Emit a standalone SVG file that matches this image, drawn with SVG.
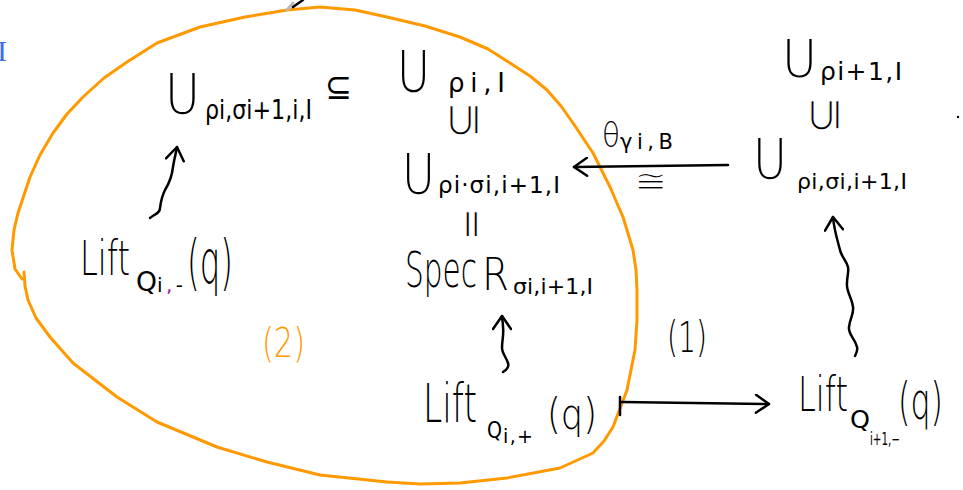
<svg xmlns="http://www.w3.org/2000/svg" width="963" height="490" viewBox="0 0 963 490">
<style>
.t{font-family:"DejaVu Sans","Liberation Sans",sans-serif;fill:#000;font-weight:200}
.s{font-weight:400}
.sym{font-weight:400;stroke:#fff;stroke-width:1.3}
.o{fill:#ff9900}
.ln{fill:none;stroke:#000;stroke-width:2.5;stroke-linecap:round;stroke-linejoin:round}
.arr{marker-end:url(#ah)}
.reg{fill:none;stroke:#ff9900;stroke-width:3;stroke-linecap:round;stroke-linejoin:round}
</style>
<defs>
<marker id="ah" viewBox="0 0 20 20" refX="16" refY="10" markerWidth="20" markerHeight="20" markerUnits="userSpaceOnUse" orient="auto">
<path d="M3,1 L16,10 L3,19" fill="none" stroke="#000" stroke-width="2.5" stroke-linecap="round" stroke-linejoin="round"/>
</marker>
</defs>
<rect width="963" height="490" fill="#fff"/>

<g id="region">
<path class="reg" d="M22,279 L15,269 L12,250 L14,230 L18,213 L24,195 L30,177 L40,155 L53,133 L67,114 L83,97 L104,78 L127,62 L157,43 L200,27 L245,17 L287,10 L320,7 L355,10 L387,17 L425,26 L460,37 L488,49 L510,63 L530,76 L547,90 L561,106 L573,123 L593,153 L610,187 L623,217 L633,250 L636,270 L637,290 L637,320 L635,350 L627,390 L613,427 L604,441 L593,453 L560,468 L507,478 L460,483 L420,484 L387,482 L320,475 L267,462 L217,447 L157,422 L117,397 L73,363 L50,337 L36,318 L28,300 L25,286 L24,272"/>
<text class="t o" x="262" y="357" font-size="40" textLength="43" lengthAdjust="spacingAndGlyphs">(2)</text>
</g>

<g id="margin">
<text x="2" y="61" font-family="Liberation Serif,serif" font-size="30" text-anchor="middle" fill="#3b6cf5">I</text>
<line x1="287" y1="10" x2="293" y2="3" stroke="#bbb" stroke-width="3" stroke-linecap="round"/>
<line x1="293" y1="7" x2="303" y2="0" stroke="#000" stroke-width="2.5" stroke-linecap="round"/>
<circle cx="958" cy="117" r="1.2" fill="#000"/>
</g>

<g id="node-A">
<text class="t" x="165" y="113" font-size="55" textLength="35" lengthAdjust="spacingAndGlyphs">U</text>
<text class="t s" x="205" y="119" font-size="26" textLength="107" lengthAdjust="spacingAndGlyphs">ρi,σi+1,i,I</text>
</g>

<g id="node-B">
<text class="t" x="397" y="92" font-size="57" textLength="33" lengthAdjust="spacingAndGlyphs">U</text>
<text class="t s" x="448" y="92" font-size="26" textLength="57">ρi,I</text>
</g>

<g id="node-C">
<text class="t" x="402" y="193" font-size="55" textLength="33" lengthAdjust="spacingAndGlyphs">U</text>
<text class="t s" x="438" y="193" font-size="23" textLength="122">ρi·σi,i+1,I</text>
</g>

<g id="node-D">
<text class="t" x="405" y="287" font-size="50" textLength="72" lengthAdjust="spacingAndGlyphs">Spec</text>
<text class="t" x="482" y="290" font-size="44" textLength="27" lengthAdjust="spacingAndGlyphs">R</text>
<text class="t s" x="513" y="294" font-size="22" textLength="80">σi,i+1,I</text>
</g>

<g id="node-E">
<text class="t" x="423" y="422" font-size="53" textLength="54" lengthAdjust="spacingAndGlyphs">Lift</text>
<text class="t s" x="487" y="438" font-size="23" textLength="15" lengthAdjust="spacingAndGlyphs">Q</text>
<text class="t s" x="503" y="443" font-size="19" textLength="30">i,+</text>
<text class="t" x="547" y="429" font-size="43" textLength="50" lengthAdjust="spacingAndGlyphs">(q)</text>
</g>

<g id="node-F">
<text class="t" x="798" y="411" font-size="48" textLength="50" lengthAdjust="spacingAndGlyphs">Lift</text>
<text class="t s" x="850" y="428" font-size="25" textLength="20" lengthAdjust="spacingAndGlyphs">Q</text>
<text class="t s" x="870" y="445" font-size="17" textLength="30" lengthAdjust="spacingAndGlyphs">i+1,−</text>
<text class="t" x="898" y="419" font-size="52" textLength="45" lengthAdjust="spacingAndGlyphs">(q)</text>
</g>

<g id="node-G">
<text class="t" x="753" y="178" font-size="56" textLength="34" lengthAdjust="spacingAndGlyphs">U</text>
<text class="t s" x="797" y="189" font-size="22" textLength="110">ρi,σi,i+1,I</text>
</g>

<g id="node-H">
<text class="t" x="782" y="77" font-size="51" textLength="35" lengthAdjust="spacingAndGlyphs">U</text>
<text class="t s" x="820" y="80" font-size="25" textLength="82">ρi+1,I</text>
</g>

<g id="node-I">
<text class="t" x="80" y="275" font-size="48" textLength="50" lengthAdjust="spacingAndGlyphs">Lift</text>
<text class="t s" x="136" y="291" font-size="27" textLength="21" lengthAdjust="spacingAndGlyphs">Q</text>
<text class="t s" x="157" y="292" font-size="20" textLength="26">i<tspan fill="#a020a0">,</tspan>-</text>
<text class="t" x="187" y="283" font-size="60" textLength="46" lengthAdjust="spacingAndGlyphs">(q)</text>
</g>

<g id="connectors">
<path class="ln arr" d="M150,218 C155,214 160,213 160,208 C161,200 162,196 165,190 C170,182 172,176 173,167 C174,160 176,153 177,147"/>
<path class="ln arr" d="M503,372 C508,369 509,366 508,363 C506,357 502,353 502,348 C502,340 504,335 503,327 C503,322 502,319 502,316"/>
<path class="ln arr" d="M728,165 L574,167"/>
<line class="ln" x1="620" y1="397" x2="620" y2="415"/>
<path class="ln arr" d="M622,402 L769,404"/>
<path class="ln arr" d="M855,356 C857,352 858,350 857,347 C855,338 848,335 849,327 C850,318 854,314 853,307 C852,297 846,292 847,283 C847,276 849,272 848,267 C846,260 841,256 840,250 C838,242 834,230 833,217"/>
<text class="t s" x="325" y="99" font-size="36" textLength="27" lengthAdjust="spacingAndGlyphs">⊆</text>
<text class="t sym" font-size="46" text-anchor="middle" dominant-baseline="central" transform="translate(462,120) rotate(-90)">⊆</text>
<text class="t sym" font-size="46" text-anchor="middle" dominant-baseline="central" transform="translate(823,115) rotate(-90)">⊆</text>
<text class="t sym" font-size="40" text-anchor="middle" dominant-baseline="central" transform="translate(473,224) rotate(90)">=</text>
<text class="t" x="602" y="147" font-size="34" textLength="18" lengthAdjust="spacingAndGlyphs">θ</text>
<text class="t s" x="620" y="149" font-size="21" textLength="53">γi,B</text>
<text class="t sym" x="634" y="192" font-size="32" textLength="34" lengthAdjust="spacingAndGlyphs">≅</text>
<text class="t" x="667" y="352" font-size="42" textLength="40" lengthAdjust="spacingAndGlyphs">(1)</text>
</g>
</svg>
